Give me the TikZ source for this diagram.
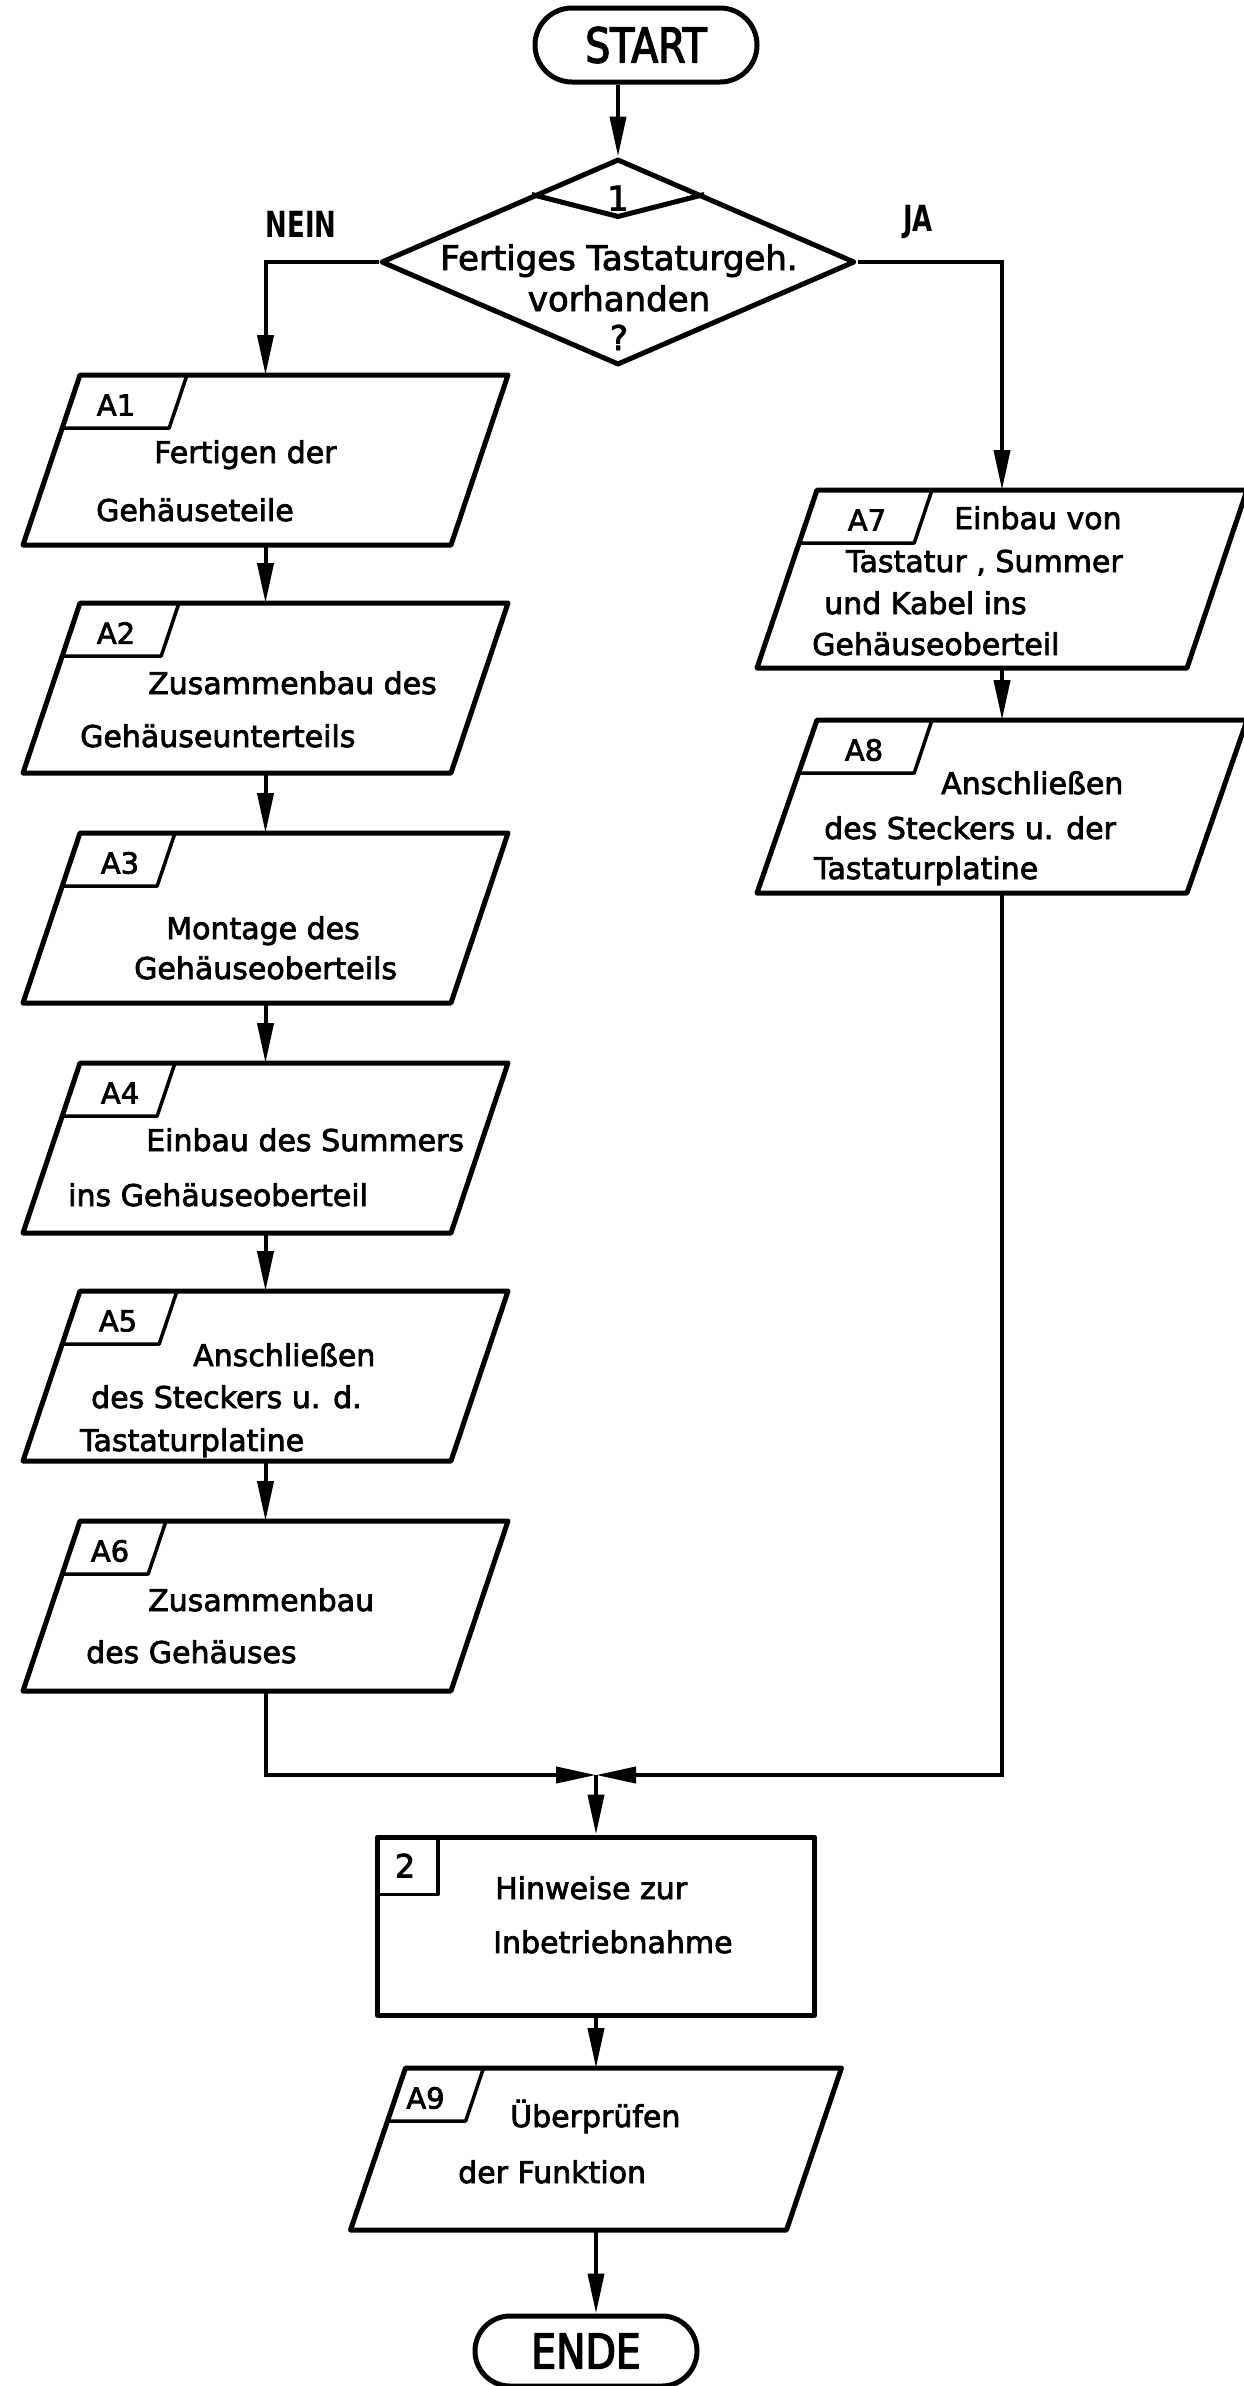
\documentclass[tikz,border=0pt]{standalone}
\usepackage{fontspec}
\setmainfont{DejaVu Sans}[FakeBold=2.5]
\newfontfamily\condfont[FakeStretch=0.82,FakeBold=3]{DejaVu Sans}
\newfontfamily\yesnofont[FakeStretch=0.72]{DejaVu Sans}
\usetikzlibrary{shapes.geometric,shapes.misc,arrows.meta,calc}
% parallelogram drawn round an invisible rectangle node: name, slant
\newcommand\drawpara[2]{%
  \draw[box] ([shift={(#2/2,0)}]#1.north west) coordinate (#1tl) -- ([shift={(#2/2,0)}]#1.north east)
    -- ([shift={(-#2/2,0)}]#1.south east) -- ([shift={(-#2/2,0)}]#1.south west) -- cycle;}
% label box: name, width at top, text x offset, text
\newcommand\plab[4]{%
  \draw[labline] ([shift={(-17.8,53)}]#1tl) -- ([shift={(#2-17.8,53)}]#1tl) -- ([shift={(#2,0)}]#1tl);
  \node[lbl] (#1lab) at ([shift={(#3,30)}]#1tl) {#4};}
\begin{document}
\begin{tikzpicture}[x=1pt,y=-1pt,
  box/.style={draw, line width=5pt, line join=round},
  proc/.style={inner sep=0pt, outer sep=0pt, minimum width=428pt, minimum height=170pt},
  conn/.style={line width=4pt, -{Triangle[length=40pt,width=16pt]}},
  labline/.style={line width=3.5pt, line join=round},
  txt/.style={anchor=base west, inner sep=0pt, font=\fontsize{30pt}{36pt}\selectfont},
  ctxt/.style={anchor=base, inner sep=0pt, font=\fontsize{34pt}{40pt}\selectfont},
  lbl/.style={inner sep=0pt, font=\fontsize{29pt}{34pt}\selectfont},
  term/.style={box, rounded rectangle, minimum width=222pt, minimum height=74pt, inner sep=0pt,
    font=\condfont\fontsize{48pt}{56pt}\selectfont},
  yn/.style={inner sep=0pt, font=\yesnofont\bfseries\fontsize{36pt}{42pt}\selectfont},
]
\fill[white] (0,0) rectangle (1244,2386);
\useasboundingbox (0,0) rectangle (1244,2386);

% terminals and decision
\node[term] (start) at (646,45) {START};
\node[box, diamond, minimum width=474pt, minimum height=206pt, inner sep=0pt] (dec) at (618,262) {};
\draw[box] ($(dec.north)!0.36!(dec.west)$) -- ($(dec.north)+(0,60)$) -- ($(dec.north)!0.36!(dec.east)$);
\node[ctxt] (one) at ($(dec.north)+(0,54)$) {1};
\node[ctxt] (q1) at (619,270) {Fertiges Tastaturgeh.};
\node[ctxt] (q2) at (619,311) {vorhanden};
\node[ctxt] (q3) at (619,350) {?};
\node[yn] (nein) at (301,224) {NEIN};
\node[yn] (ja) at (918,222) {JA};

% left column
\node[proc] (a1) at (265.5,460) {};
\node[proc] (a2) at (265.5,688) {};
\node[proc] (a3) at (265.5,918) {};
\node[proc] (a4) at (265.5,1148) {};
\node[proc] (a5) at (265.5,1376) {};
\node[proc] (a6) at (265.5,1606) {};
\drawpara{a1}{57}\drawpara{a2}{57}\drawpara{a3}{57}
\drawpara{a4}{57}\drawpara{a5}{57}\drawpara{a6}{57}
% right column
\node[proc, minimum width=430pt, minimum height=178pt] (a7) at (1002,579) {};
\node[proc, minimum width=430pt, minimum height=173pt] (a8) at (1002,806.5) {};
\drawpara{a7}{60}\drawpara{a8}{60}
% box 2, A9, end
\node[box, minimum width=437pt, minimum height=178pt, inner sep=0pt] (b2) at (596,1926) {};
\node[proc, minimum width=436pt, minimum height=162pt] (a9) at (596,2149) {};
\drawpara{a9}{55}
\node[term, minimum height=70pt] (ende) at (586,2351) {ENDE};
\coordinate (m) at (596,1775);

% labels
\plab{a1}{107}{36}{A1}
\plab{a2}{99}{36}{A2}
\plab{a3}{95}{40}{A3}
\plab{a4}{95}{40}{A4}
\plab{a5}{97}{38}{A5}
\plab{a6}{86}{30}{A6}
\plab{a7}{115}{50}{A7}
\plab{a8}{115}{47}{A8}
\plab{a9}{78}{20}{A9}
\draw[labline] ([shift={(63,0)}]b2.north west) |- ([shift={(0,60)}]b2.north west);
\node[lbl, font=\fontsize{32pt}{38pt}\selectfont] (b2lab) at ([shift={(30,31)}]b2.north west) {2};

% texts
\node[txt] (t11) at (154,463) {Fertigen der};
\node[txt] (t12) at (96,521) {Gehäuseteile};
\node[txt] (t21) at (148,694) {Zusammenbau des};
\node[txt] (t22) at (80,747) {Gehäuseunterteils};
\node[txt] (t31) at (166,939) {Montage des};
\node[txt] (t32) at (134,979) {Gehäuseoberteils};
\node[txt] (t41) at (146,1151) {Einbau des Summers};
\node[txt] (t42) at (68,1206) {ins Gehäuseoberteil};
\node[txt] (t51) at (193,1366) {Anschließen};
\node[txt] (t52) at (91,1408) {des Steckers u. d.};
\node[txt] (t53) at (80,1451) {Tastaturplatine};
\node[txt] (t61) at (148,1611) {Zusammenbau};
\node[txt] (t62) at (86,1663) {des Gehäuses};
\node[txt] (t71) at (954,529) {Einbau von};
\node[txt] (t72) at (846,572) {Tastatur , Summer};
\node[txt] (t73) at (824,614) {und Kabel ins};
\node[txt] (t74) at (812,655) {Gehäuseoberteil};
\node[txt] (t81) at (941,794) {Anschließen};
\node[txt] (t82) at (824,839) {des Steckers u. der};
\node[txt] (t83) at (814,879) {Tastaturplatine};
\node[txt] (tb1) at (495,1899) {Hinweise zur};
\node[txt] (tb2) at (493,1953) {Inbetriebnahme};
\node[txt] (t91) at (510,2127) {Überprüfen};
\node[txt] (t92) at (458,2183) {der Funktion};

% connectors
\draw[conn] (dec.north |- start.south) -- (dec.north);
\draw[conn] (dec.west) -| (a1.north);
\draw[conn] (dec.east) -| (a7.north);
\draw[conn] (a1.south) -- (a2.north);
\draw[conn] (a2.south) -- (a3.north);
\draw[conn] (a3.south) -- (a4.north);
\draw[conn] (a4.south) -- (a5.north);
\draw[conn] (a5.south) -- (a6.north);
\draw[conn] (a7.south) -- (a8.north);
\draw[conn] (a6.south) |- (m);
\draw[conn] (a8.south) |- (m);
\draw[conn] (m) -- (b2.north);
\draw[conn] (b2.south) -- (a9.north);
\draw[conn] (a9.south) -- (a9.south |- ende.north);
\end{tikzpicture}
\end{document}
